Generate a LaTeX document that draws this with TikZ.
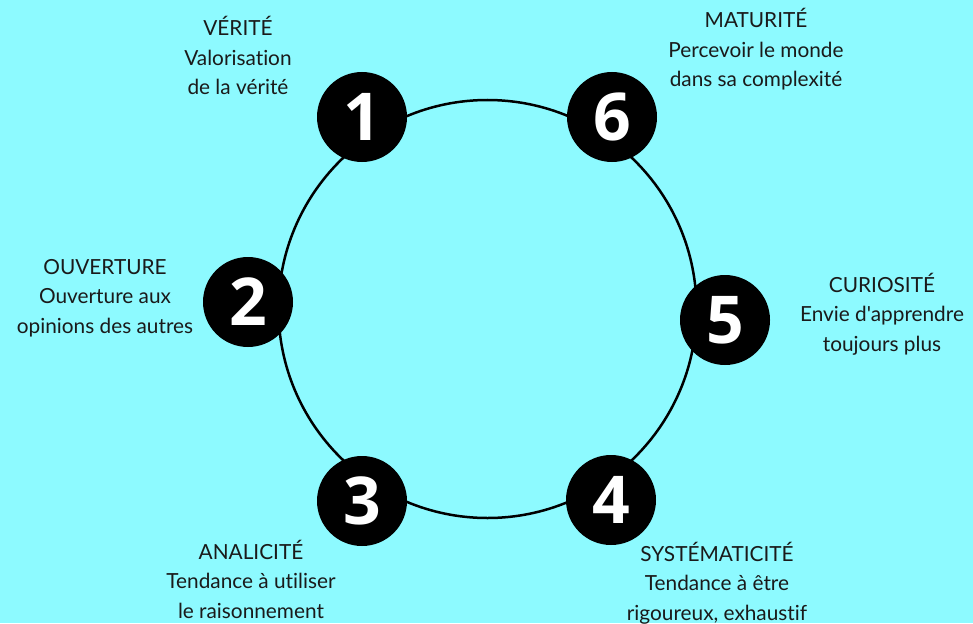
\documentclass[tikz,border=0pt]{standalone}
\usepackage{fontspec}
\setmainfont{Lato}[Ligatures={NoCommon,TeXOff}]
\newfontfamily\numfont{Open Sans}[BoldFont={* Bold}]
\definecolor{bgcyan}{RGB}{141,250,255}
\definecolor{txt}{RGB}{26,26,26}
\begin{document}
\begin{tikzpicture}[x=1pt,y=-1pt,
  numc/.style={circle,fill=black,draw=none,minimum size=90pt,inner sep=0pt,text=white,font=\numfont\bfseries\fontsize{66}{66}\selectfont},
  lbl/.style={align=center,text=txt,inner sep=0pt,anchor=base,font=\fontsize{20.8}{29.5}\selectfont}]
\fill[bgcyan] (0,0) rectangle (973,623);
\useasboundingbox (0,0) rectangle (973,623);
\node[circle,draw=black,line width=2.5pt,minimum size=418pt,inner sep=0pt] (ring) at (487.5,309) {};
\node[numc] (n1) at (362,117) {1};
\node[numc] (n6) at (612,117) {6};
\node[numc] (n2) at (248,302) {2};
\node[numc] (n5) at (725,320) {5};
\node[numc] (n3) at (362,501) {3};
\node[numc] (n4) at (611,500) {4};
\node[lbl] (t1) at (238,95) {VÉRITÉ\\Valorisation\\de la vérité};
\node[lbl] (t6) at (756,87) {MATURITÉ\\Percevoir le monde\\dans sa complexité};
\node[lbl] (t2) at (105,333) {OUVERTURE\\Ouverture aux\\opinions des autres};
\node[lbl] (t5) at (882,351) {CURIOSITÉ\\Envie d'apprendre\\toujours plus};
\node[lbl] (t3) at (251,618) {ANALICITÉ\\Tendance à utiliser\\le raisonnement};
\node[lbl] (t4) at (717,620) {SYSTÉMATICITÉ\\Tendance à être\\rigoureux, exhaustif};
\end{tikzpicture}
\end{document}
